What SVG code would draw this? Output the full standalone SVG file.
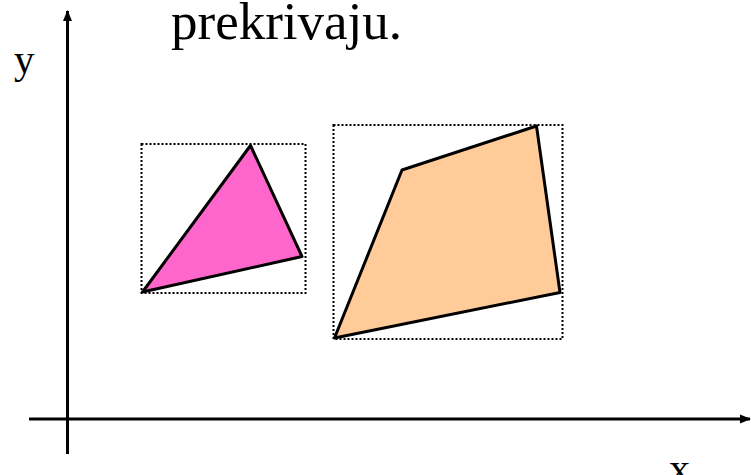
<svg xmlns="http://www.w3.org/2000/svg" width="751" height="475" viewBox="0 0 751 475">
<defs>
<style>
.t{font-family:"Liberation Serif","Times New Roman",serif;fill:#000}
.ax{stroke:#000;stroke-width:3;fill:none}
.bb{fill:none;stroke:#000;stroke-width:2;stroke-dasharray:2 2}
.sh{stroke:#000;stroke-width:3;stroke-linejoin:round}
</style>
<marker id="ah" markerWidth="11" markerHeight="10" refX="10" refY="5" orient="auto" markerUnits="userSpaceOnUse">
<path d="M0,0.5 L11,5 L0,9.5 Z" fill="#000"/>
</marker>
</defs>
<rect width="751" height="475" fill="#fff"/>
<text class="t" x="171" y="39" font-size="53">prekrivaju.</text>
<g id="axes">
<line class="ax" x1="67.5" y1="454" x2="67.5" y2="11" marker-end="url(#ah)"/>
<line class="ax" x1="29" y1="419" x2="750" y2="419" marker-end="url(#ah)"/>
</g>
<text class="t" x="14" y="73" font-size="41">y</text>
<text class="t" x="669" y="482" font-size="42">x</text>
<g id="triangle">
<rect class="bb" x="141.5" y="144" width="164" height="149"/>
<polygon class="sh" fill="#ff66cc" points="250.5,145.5 302,256.5 142.5,292"/>
</g>
<g id="quad">
<rect class="bb" x="333.5" y="125" width="229" height="214"/>
<polygon class="sh" fill="#ffcc99" points="334.5,338 402,170 536.5,126 560,292.5"/>
</g>
</svg>
